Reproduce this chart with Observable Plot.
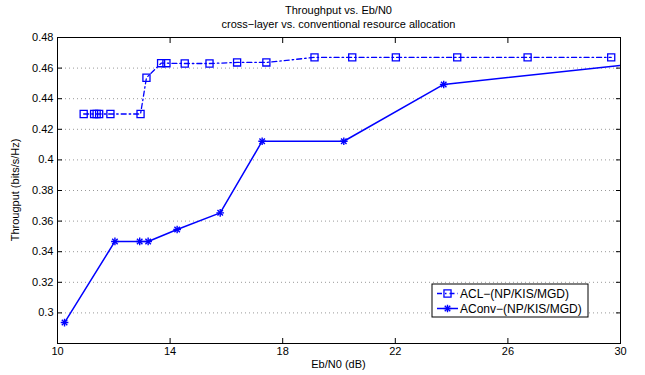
<!DOCTYPE html>
<html><head><meta charset="utf-8">
<script src="https://cdn.jsdelivr.net/npm/d3@7"></script>
<script src="https://cdn.jsdelivr.net/npm/@observablehq/plot@0.6"></script>
<style>body{margin:0;background:#fff} svg{font-family:"Liberation Sans",Arial,sans-serif}</style>
</head><body><div id="chart"></div>
<script>
const titleLines = ["Throughput vs. Eb/N0", "cross\u2212layer vs. conventional resource allocation"];
const xLabel = "Eb/N0 (dB)";
const yLabel = "Througput (bits/s/Hz)";
const xTicks = [10, 14, 18, 22, 26, 30];
const yTicks = [0.3, 0.32, 0.34, 0.36, 0.38, 0.4, 0.42, 0.44, 0.46, 0.48];
const seriesNames = ["ACL\u2212(NP/KIS/MGD)", "AConv\u2212(NP/KIS/MGD)"];

const aclX = [10.93, 11.30, 11.39, 11.48, 11.88, 12.95, 13.16, 13.68, 13.87, 14.52, 15.40, 16.38, 17.42, 19.13, 20.47, 22.02, 24.20, 26.70, 29.67];
const aclY = [0.430, 0.430, 0.430, 0.430, 0.430, 0.430, 0.4537, 0.4632, 0.4632, 0.4630, 0.4630, 0.4637, 0.4637, 0.4670, 0.4670, 0.4670, 0.4670, 0.4670, 0.4670];

const convX = [10.25, 12.04, 12.92, 13.22, 14.25, 15.78, 17.27, 20.17, 23.72, 30.30];
const convY = [0.2937, 0.3467, 0.3467, 0.3467, 0.3545, 0.3654, 0.4122, 0.4122, 0.4493, 0.4623];

const acl = aclX.map((x, i) => ({x, y: aclY[i]}));
const conv = convX.map((x, i) => ({x, y: convY[i]}));

const blue = "#0000ff";
const starR = 2.6;
const sqR = 4;
const chart = Plot.plot({
  width: 645, height: 375,
  marginLeft: 57, marginRight: 25, marginTop: 37, marginBottom: 32,
  style: {fontFamily: "Liberation Sans, Arial, sans-serif", fontSize: "11px", background: "white", color: "black"},
  x: {domain: [10, 30], label: null},
  y: {domain: [0.28, 0.48], label: null},
  marks: [
    Plot.gridY(yTicks, {stroke: "#999", strokeOpacity: 1, strokeDasharray: "1,3"}),
    Plot.axisY(yTicks, {anchor: "left", tickSize: 0, tickPadding: 4, tickFormat: d => String(d), label: null}),
    Plot.axisX(xTicks, {anchor: "bottom", tickSize: 0, tickPadding: 4, tickFormat: d => String(d), label: null}),
    Plot.axisY(yTicks, {anchor: "left", tickSize: 5, dx: 5, tickFormat: () => "", label: null, stroke: "black"}),
    Plot.axisY(yTicks, {anchor: "right", tickSize: 5, dx: -5, tickFormat: () => "", label: null, stroke: "black"}),
    Plot.axisX(xTicks, {anchor: "bottom", tickSize: 5, dy: -5, tickFormat: () => "", label: null, stroke: "black"}),
    Plot.axisX(xTicks, {anchor: "top", tickSize: 5, dy: 5, tickFormat: () => "", label: null, stroke: "black"}),
    Plot.line(acl, {x: "x", y: "y", stroke: blue, strokeWidth: 1.3, strokeDasharray: "5,3,1.5,3"}),
    Plot.dot(acl, {x: "x", y: "y", symbol: "square", r: sqR, stroke: blue, fill: "none", strokeWidth: 1.3}),
    Plot.line(conv, {x: "x", y: "y", stroke: blue, strokeWidth: 1.5, clip: true}),
    Plot.dot(conv, {x: "x", y: "y", symbol: "plus", r: starR, stroke: blue, strokeWidth: 1.4, clip: true}),
    Plot.dot(conv, {x: "x", y: "y", symbol: "times", r: starR, stroke: blue, strokeWidth: 1.4, clip: true}),
    Plot.frame({stroke: "black", strokeWidth: 1})
  ]
});
document.getElementById("chart").appendChild(chart);

const svg = d3.select(chart);
const cx = (57 + 620) / 2;
const addText = (x, y, t, anchor) => svg.append("text").attr("x", x).attr("y", y).attr("text-anchor", anchor).attr("font-size", 11).attr("fill", "black").text(t);
addText(cx, 14, titleLines[0], "middle");
addText(cx, 28, titleLines[1], "middle");
addText(cx, 368, xLabel, "middle");
svg.append("text").attr("transform", "translate(19,190) rotate(-90)").attr("text-anchor", "middle").attr("font-size", 11).attr("fill", "black").text(yLabel);

// legend
const lg = svg.append("g").attr("text-anchor", "start");
lg.append("rect").attr("x", 432).attr("y", 284).attr("width", 156).attr("height", 33).attr("fill", "white").attr("stroke", "black").attr("stroke-width", 1);
const rows = [293.5, 308.5];
lg.append("line").attr("x1", 437).attr("x2", 458).attr("y1", rows[0]).attr("y2", rows[0]).attr("stroke", blue).attr("stroke-width", 1.3).attr("stroke-dasharray", "5,3,1.5,3");
lg.append("path").attr("d", d3.symbol(d3.symbolSquare, sqR * sqR * Math.PI)()).attr("transform", `translate(447.5,${rows[0]})`).attr("fill", "none").attr("stroke", blue).attr("stroke-width", 1.3);
lg.append("line").attr("x1", 437).attr("x2", 458).attr("y1", rows[1]).attr("y2", rows[1]).attr("stroke", blue).attr("stroke-width", 1.5);
lg.append("path").attr("d", d3.symbol(d3.symbolPlus, starR * starR * Math.PI)()).attr("transform", `translate(447.5,${rows[1]})`).attr("fill", "none").attr("stroke", blue).attr("stroke-width", 1.4);
lg.append("path").attr("d", d3.symbol(d3.symbolTimes, starR * starR * Math.PI)()).attr("transform", `translate(447.5,${rows[1]})`).attr("fill", "none").attr("stroke", blue).attr("stroke-width", 1.4);
seriesNames.forEach((n, i) => {
  lg.append("text").attr("x", 460).attr("y", rows[i] + 4.5).attr("text-anchor", "start").attr("font-size", 12).attr("fill", "black").text(n);
});
</script></body></html>
